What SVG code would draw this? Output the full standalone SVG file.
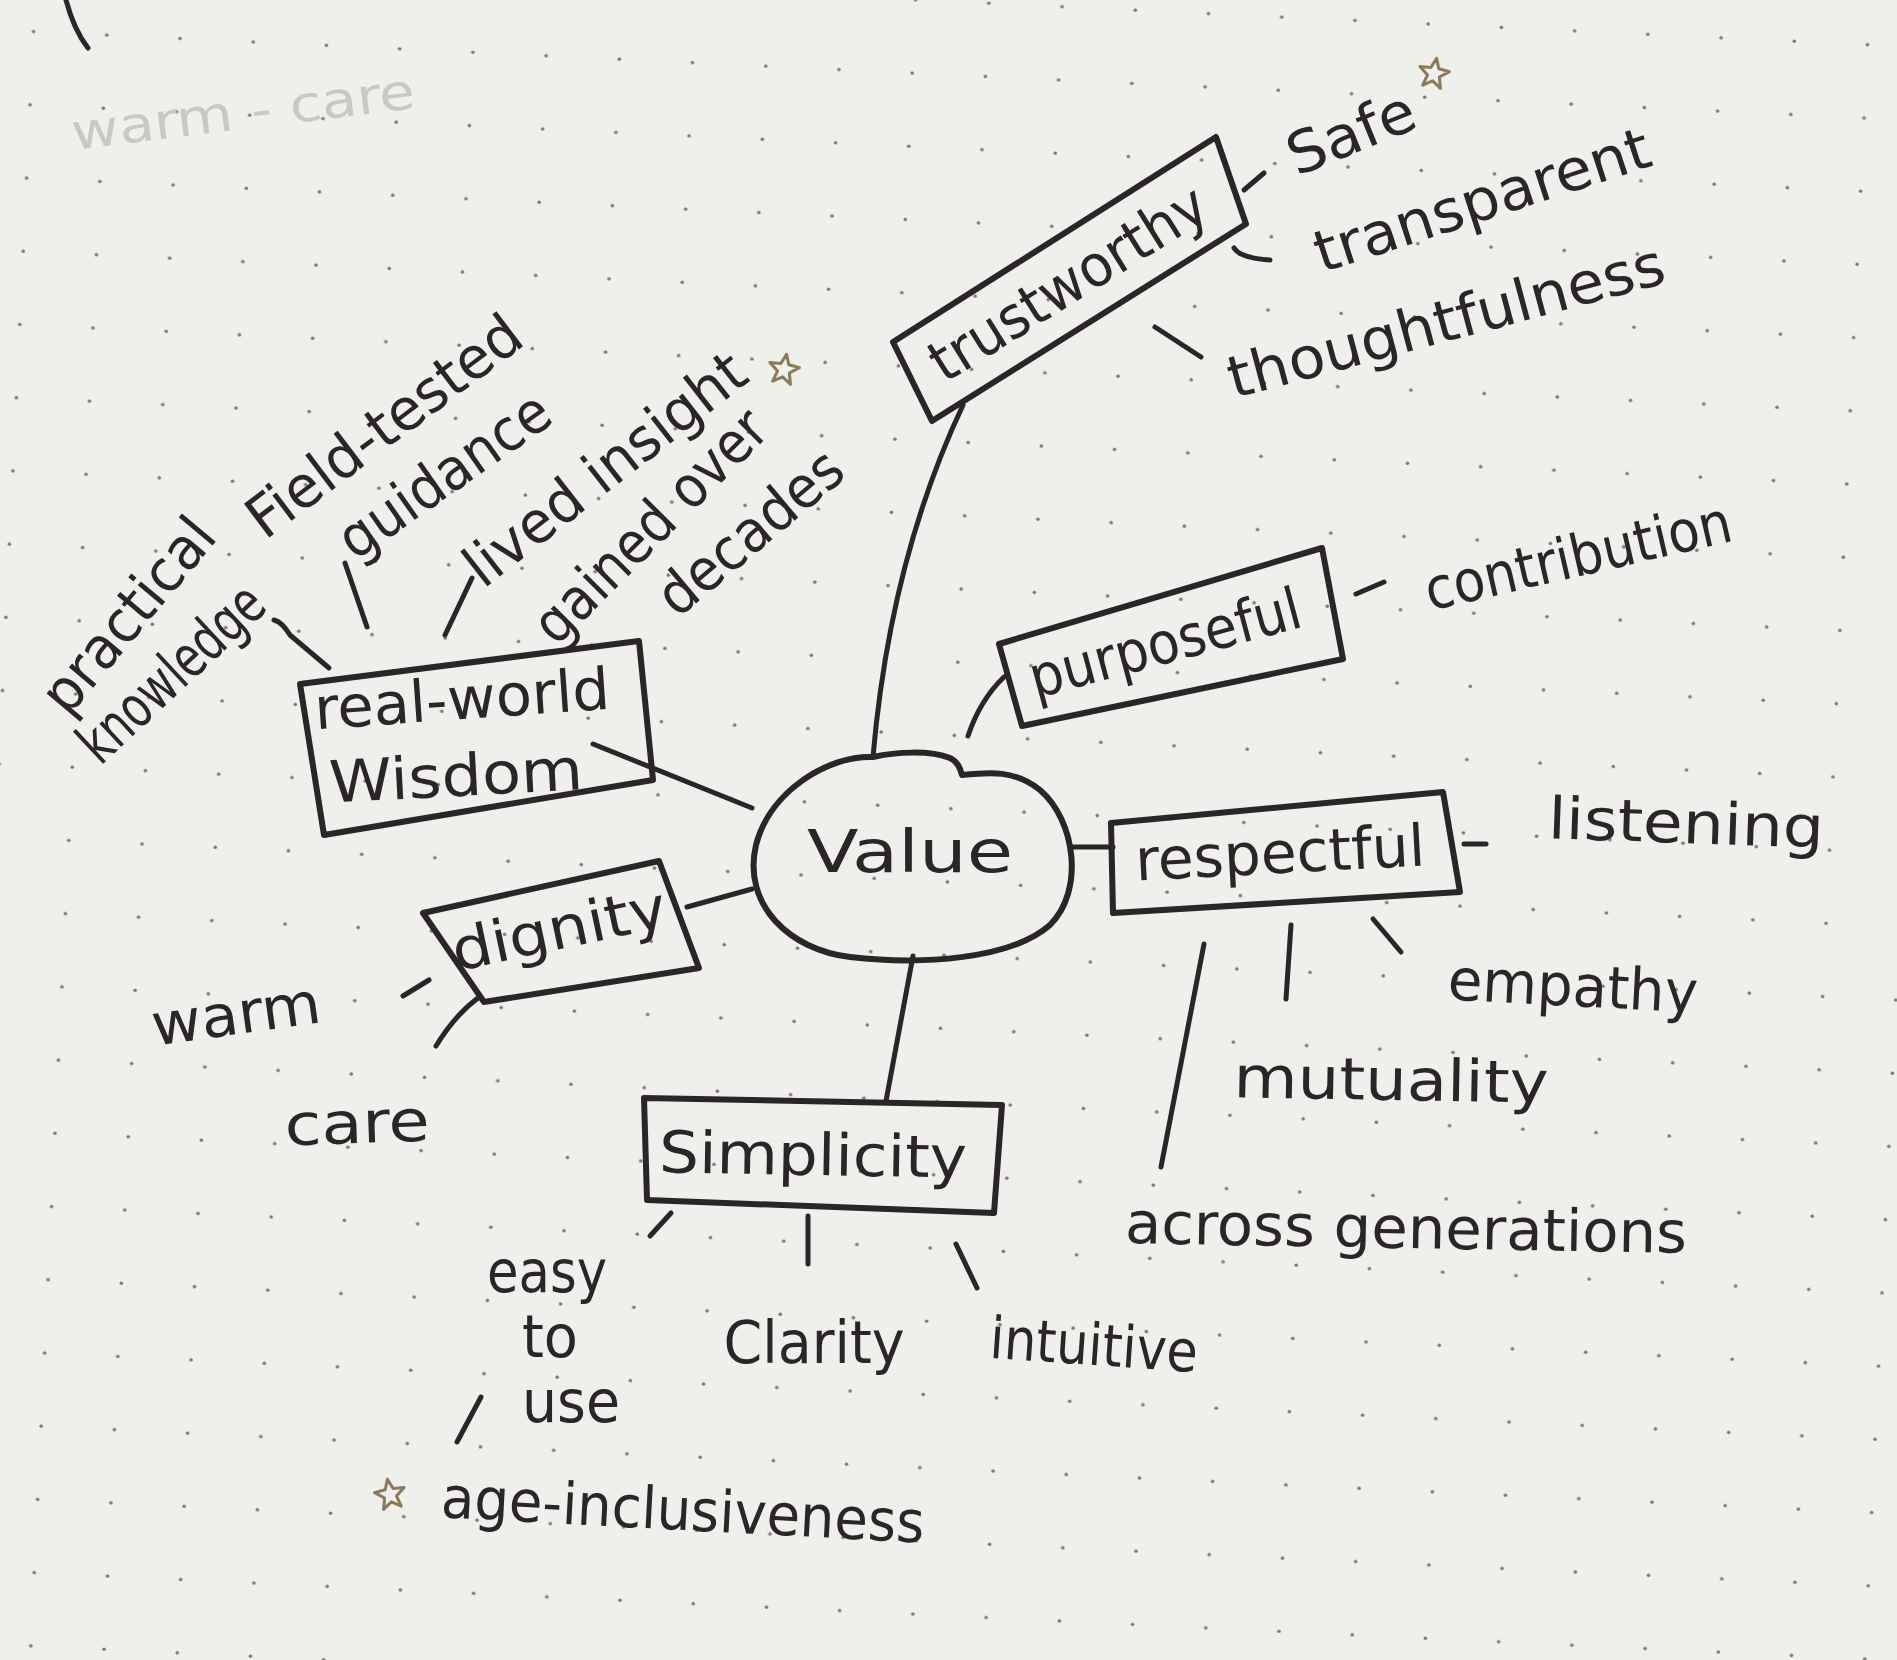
<svg xmlns="http://www.w3.org/2000/svg" width="1897" height="1660" viewBox="0 0 1897 1660">
<defs>
<pattern id="dots" width="73.3" height="73.3" patternUnits="userSpaceOnUse" patternTransform="rotate(2.7)">
<circle cx="35" cy="30" r="1.8" fill="#80776f"/>
</pattern>
<path id="star" d="M0,-15 L4,-5 L15,-4 L6,3 L9,14 L0,8 L-9,14 L-6,3 L-15,-4 L-4,-5 Z"/>
<style>
.ink{fill:none;stroke:#2b2428;stroke-width:5;stroke-linecap:round;stroke-linejoin:round}
.box{fill:none;stroke:#2b2428;stroke-width:6;stroke-linejoin:round;stroke-linecap:round}
.t{font-family:"Liberation Sans Narrow","DejaVu Sans Condensed","Liberation Sans",sans-serif;fill:#2b2428;text-anchor:middle;dominant-baseline:central;font-size:58px}
.faint{font-family:"Liberation Sans Narrow","DejaVu Sans Condensed","Liberation Sans",sans-serif;fill:#cbc8c4;text-anchor:middle;dominant-baseline:central;font-size:50px}
.star{fill:none;stroke:#8b7a58;stroke-width:3;stroke-linejoin:round}
</style>
</defs>
<rect width="1897" height="1660" fill="#efefeb"/>
<rect width="1897" height="1660" fill="url(#dots)"/>

<path class="ink" d="M66,0 Q74,30 88,48" stroke-width="4"/>
<text class="faint" transform="translate(243,112) rotate(-7)" textLength="345" lengthAdjust="spacingAndGlyphs">warm - care</text>

<g id="connectors">
<path class="ink" d="M963,405 Q890,560 873,757"/>
<path class="ink" d="M968,736 Q980,700 1004,677"/>
<path class="ink" d="M1071,847 L1113,847"/>
<path class="ink" d="M593,744 L752,808"/>
<path class="ink" d="M687,907 L752,889"/>
<path class="ink" d="M913,956 L886,1101"/>
<path class="ink" d="M1244,190 L1264,173"/>
<path class="ink" d="M1234,248 Q1240,258 1270,260"/>
<path class="ink" d="M1155,327 L1201,357"/>
<path class="ink" d="M1356,594 L1384,582"/>
<path class="ink" d="M1464,844 L1486,844"/>
<path class="ink" d="M1373,919 L1401,952"/>
<path class="ink" d="M1291,925 L1286,999"/>
<path class="ink" d="M1204,944 L1161,1167"/>
<path class="ink" d="M274,620 Q282,622 290,635 L329,668"/>
<path class="ink" d="M345,563 L367,627"/>
<path class="ink" d="M445,635 L472,578"/>
<path class="ink" d="M403,996 L429,980"/>
<path class="ink" d="M436,1046 Q455,1015 478,998"/>
<path class="ink" d="M650,1236 L671,1213"/>
<path class="ink" d="M808,1216 L808,1264"/>
<path class="ink" d="M956,1244 L977,1288"/>
<path class="ink" d="M481,1397 L457,1442"/>
</g>

<g id="value">
<path class="box" d="M873,757 C830,755 770,790 756,845 C742,905 790,950 850,957 C920,965 1010,960 1050,925 C1085,890 1075,820 1040,790 C1015,770 990,772 962,775 C960,768 958,762 950,758 C930,750 895,752 873,757 Z"/>
<text class="t" x="910" y="852" font-size="84" textLength="206" lengthAdjust="spacingAndGlyphs">Value</text>
</g>

<g id="trustworthy">
<polygon class="box" points="893,342 1216,137 1246,224 932,421"/>
<text class="t" transform="translate(1068,283) rotate(-32)" font-size="60" textLength="316" lengthAdjust="spacingAndGlyphs">trustworthy</text>
</g>
<g id="safe"><text class="t" transform="translate(1351,133) rotate(-22)" font-size="64" textLength="133" lengthAdjust="spacingAndGlyphs">Safe</text></g>
<g id="transparent"><text class="t" transform="translate(1482,200) rotate(-18)" font-size="60" textLength="350" lengthAdjust="spacingAndGlyphs">transparent</text></g>
<g id="thoughtfulness"><text class="t" transform="translate(1446,321) rotate(-15)" font-size="62" textLength="450" lengthAdjust="spacingAndGlyphs">thoughtfulness</text></g>

<g id="purposeful">
<polygon class="box" points="999,644 1322,548 1343,659 1022,726"/>
<text class="t" transform="translate(1165,643) rotate(-15)" font-size="60" textLength="279" lengthAdjust="spacingAndGlyphs">purposeful</text>
</g>
<g id="contribution"><text class="t" transform="translate(1578,556) rotate(-13)" font-size="56" textLength="313" lengthAdjust="spacingAndGlyphs">contribution</text></g>

<g id="respectful">
<polygon class="box" points="1111,823 1443,792 1460,892 1113,913"/>
<text class="t" transform="translate(1280,853) rotate(-3)" font-size="64" textLength="290" lengthAdjust="spacingAndGlyphs">respectful</text>
</g>
<g id="listening"><text class="t" transform="translate(1686,823) rotate(2)" font-size="62" textLength="276" lengthAdjust="spacingAndGlyphs">listening</text></g>
<g id="empathy"><text class="t" transform="translate(1573,986) rotate(3)" font-size="62" textLength="250" lengthAdjust="spacingAndGlyphs">empathy</text></g>
<g id="mutuality"><text class="t" transform="translate(1391,1080) rotate(1)" font-size="58" textLength="315" lengthAdjust="spacingAndGlyphs">mutuality</text></g>
<g id="across"><text class="t" transform="translate(1406,1228) rotate(1)" font-size="62" textLength="562" lengthAdjust="spacingAndGlyphs">across generations</text></g>

<g id="wisdom">
<polygon class="box" points="300,684 639,641 653,780 324,835"/>
<text class="t" transform="translate(462,699) rotate(-4)" font-size="64" textLength="296" lengthAdjust="spacingAndGlyphs">real-world</text>
<text class="t" transform="translate(456,776) rotate(-3)" font-size="64" textLength="254" lengthAdjust="spacingAndGlyphs">Wisdom</text>
</g>
<g id="practical">
<text class="t" transform="translate(128,615) rotate(-50)" font-size="58" textLength="235" lengthAdjust="spacingAndGlyphs">practical</text>
<text class="t" transform="translate(171,673) rotate(-43)" font-size="58" textLength="231" lengthAdjust="spacingAndGlyphs">knowledge</text>
</g>
<g id="fieldtested">
<text class="t" transform="translate(384,426) rotate(-37)" font-size="62" textLength="328" lengthAdjust="spacingAndGlyphs">Field-tested</text>
<text class="t" transform="translate(444,475) rotate(-35)" font-size="62" textLength="245" lengthAdjust="spacingAndGlyphs">guidance</text>
</g>
<g id="lived">
<text class="t" transform="translate(605,469) rotate(-38)" font-size="60" textLength="340" lengthAdjust="spacingAndGlyphs">lived insight</text>
<text class="t" transform="translate(650,526) rotate(-45)" font-size="58" textLength="304" lengthAdjust="spacingAndGlyphs">gained over</text>
<text class="t" transform="translate(750,532) rotate(-40)" font-size="60" textLength="223" lengthAdjust="spacingAndGlyphs">decades</text>
</g>

<g id="dignity">
<polygon class="box" points="423,913 659,861 699,968 484,1002"/>
<text class="t" transform="translate(559,929) rotate(-12)" font-size="62" textLength="218" lengthAdjust="spacingAndGlyphs">dignity</text>
</g>
<g id="warm"><text class="t" transform="translate(236,1014) rotate(-8)" font-size="56" textLength="170" lengthAdjust="spacingAndGlyphs">warm</text></g>
<g id="care"><text class="t" transform="translate(357,1123) rotate(-2)" font-size="58" textLength="145" lengthAdjust="spacingAndGlyphs">care</text></g>

<g id="simplicity">
<polygon class="box" points="644,1098 1002,1105 994,1213 647,1200"/>
<text class="t" transform="translate(813,1155) rotate(1)" font-size="66" textLength="308" lengthAdjust="spacingAndGlyphs">Simplicity</text>
</g>
<g id="easy">
<text class="t" x="547" y="1272" font-size="46" textLength="120" lengthAdjust="spacingAndGlyphs">easy</text>
<text class="t" x="550" y="1337" font-size="46" textLength="56" lengthAdjust="spacingAndGlyphs">to</text>
<text class="t" x="571" y="1402" font-size="46" textLength="98" lengthAdjust="spacingAndGlyphs">use</text>
</g>
<g id="clarity"><text class="t" x="814" y="1343" font-size="64" textLength="181" lengthAdjust="spacingAndGlyphs">Clarity</text></g>
<g id="intuitive"><text class="t" transform="translate(1094,1345) rotate(4)" font-size="58" textLength="208" lengthAdjust="spacingAndGlyphs">intuitive</text></g>
<g id="age"><text class="t" transform="translate(683,1510) rotate(3)" font-size="64" textLength="484" lengthAdjust="spacingAndGlyphs">age-inclusiveness</text></g>

<g id="stars">
<use href="#star" class="star" transform="translate(1434,73) rotate(10)"/>
<use href="#star" class="star" transform="translate(784,369) rotate(10)"/>
<use href="#star" class="star" transform="translate(390,1494) rotate(-10)"/>
</g>
</svg>
